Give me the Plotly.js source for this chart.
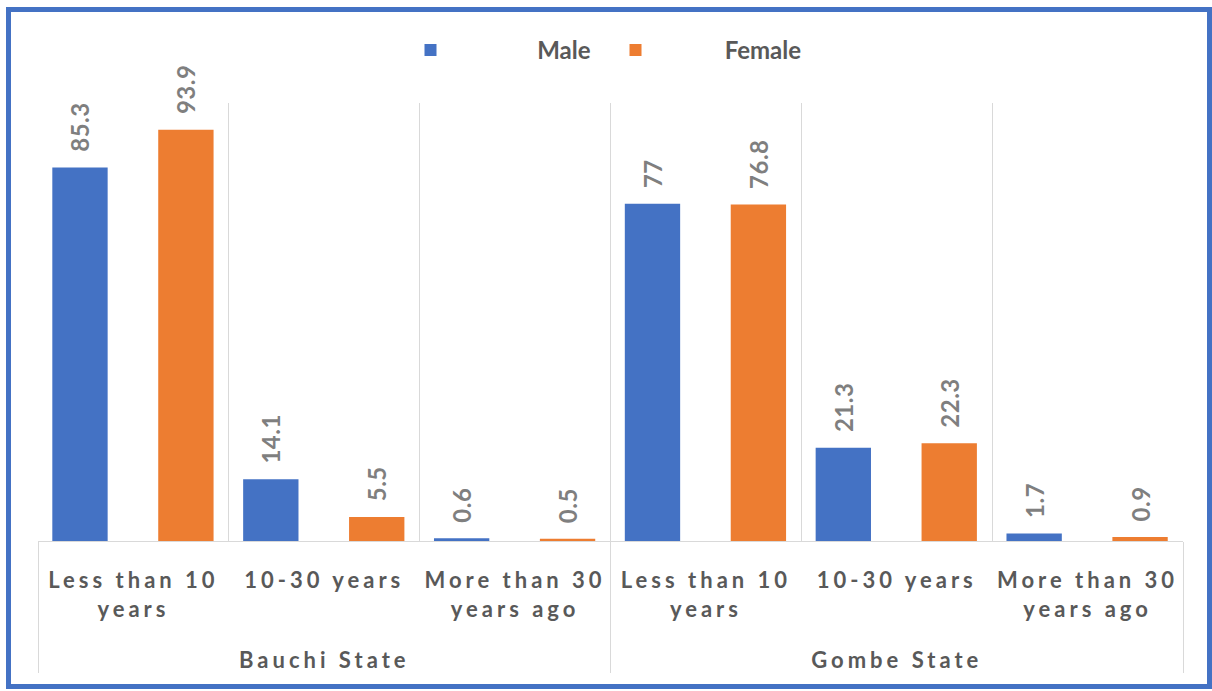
<!DOCTYPE html>
<html>
<head>
<meta charset="utf-8">
<script src="https://cdn.plot.ly/plotly-3.0.1.min.js"></script>
<style>
    body { margin: 0; background: #fff; }
    #frame {
        position: absolute; left: 6px; top: 7px;
        width: 1196px; height: 672px;
        border: 5px solid #4472C4;
    }
    .xaxislayer-above text { letter-spacing: 4px; font-weight: bold !important; }
    g.xtick2 { transform: translateY(13px); }
    .bartext { letter-spacing: 0.5px; font-weight: bold !important; }
</style>
</head>
<body>
<div id="frame"><div id="chart"></div></div>
<script>
    // categories (two levels)
    var states = ['<br>Bauchi State', '<br>Bauchi State', '<br>Bauchi State',
                  '<br>Gombe State', '<br>Gombe State', '<br>Gombe State'];
    var periods = ['Less than 10<br>years', '10-30 years', 'More than 30<br>years ago',
                   'Less than 10<br>years', '10-30 years', 'More than 30<br>years ago'];

    // series values (%)
    var male = [85.3, 14.1, 0.6, 77, 21.3, 1.7];
    var female = [93.9, 5.5, 0.5, 76.8, 22.3, 0.9];

    var nb = '\u00a0';
    var gap = nb + nb;
    var labelFont = {family: 'Lato, sans-serif', size: 24, color: '#7f7f7f', weight: 'bold'};

    var trace1 = {
        x: [states, periods],
        y: male,
        name: nb.repeat(14) + 'Male',
        type: 'bar',
        width: 0.29,
        offset: -0.425,
        marker: {color: '#4472C4'},
        text: male.map(function (v) { return gap + v; }),
        textposition: 'outside',
        textangle: -90,
        constraintext: 'none',
        textfont: labelFont,
        cliponaxis: false
    };

    var trace2 = {
        x: [states, periods],
        y: female,
        name: nb.repeat(11) + 'Female',
        type: 'bar',
        width: 0.29,
        offset: 0.13,
        marker: {color: '#ED7D31'},
        text: female.map(function (v) { return gap + v; }),
        textposition: 'outside',
        textangle: -90,
        constraintext: 'none',
        textfont: labelFont,
        cliponaxis: false
    };

    var layout = {
        width: 1196,
        height: 672,
        margin: {l: 27, r: 24, t: 91, b: 143},
        paper_bgcolor: '#fff',
        plot_bgcolor: '#fff',
        font: {family: 'Lato, sans-serif', color: '#595959'},
        showlegend: true,
        legend: {
            orientation: 'h',
            x: 0.5, xanchor: 'center',
            y: 1.12, yanchor: 'middle',
            font: {size: 24, color: '#595959', weight: 'bold'},
            entrywidth: 150,
            itemwidth: 40
        },
        xaxis: {
            type: 'multicategory',
            tickson: 'boundaries',
            showgrid: true,
            gridcolor: '#d9d9d9',
            showline: true,
            linecolor: '#d9d9d9',
            ticks: '',
            ticklabelstandoff: 20,
            showdividers: true,
            dividercolor: '#d9d9d9',
            dividerwidth: 1,
            tickangle: 0,
            tickfont: {size: 22, color: '#595959', weight: 'bold'}
        },
        yaxis: {
            range: [0, 100],
            showgrid: false,
            zeroline: false,
            showticklabels: false,
            ticks: ''
        },
        barmode: 'group'
    };

    Plotly.newPlot('chart', [trace1, trace2], layout, {displayModeBar: false});
</script>
</body>
</html>
